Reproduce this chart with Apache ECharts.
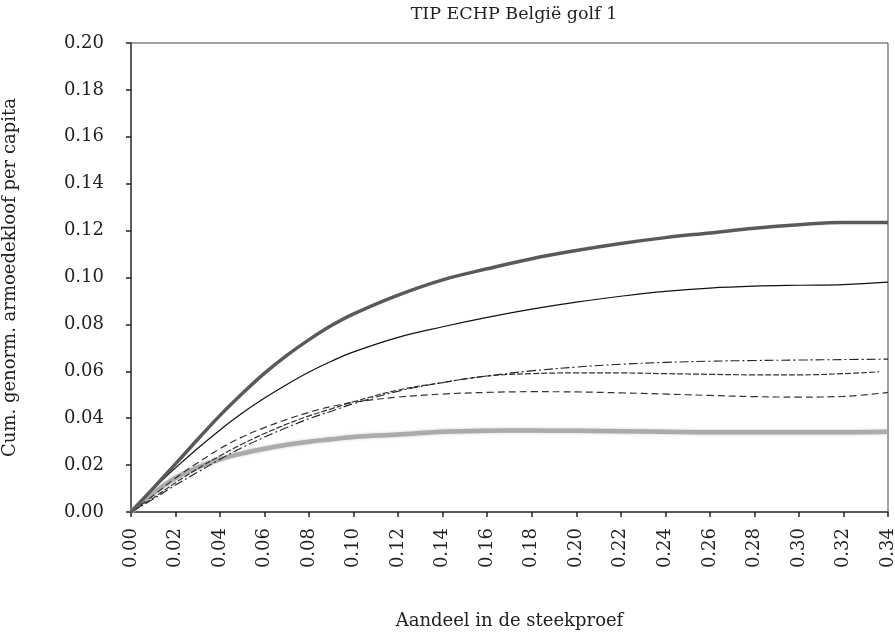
<!DOCTYPE html>
<html>
<head>
<meta charset="utf-8">
<script src="https://cdn.jsdelivr.net/npm/echarts@6/dist/echarts.min.js"></script>
<style>
  html, body { margin: 0; padding: 0; background: #fff; }
  #chart { width: 895px; height: 634px; }
</style>
</head>
<body>
<div id="chart"></div>
<script>
// Sample share (x) at which each curve is evaluated
var share = [0, 0.01, 0.02, 0.03, 0.04, 0.05, 0.06, 0.07, 0.08, 0.09, 0.10,
             0.12, 0.14, 0.16, 0.18, 0.20, 0.22, 0.24, 0.26, 0.28, 0.30, 0.32, 0.34];
var shareShort = [0, 0.01, 0.02, 0.03, 0.04, 0.05, 0.06, 0.07, 0.08, 0.09, 0.10,
             0.12, 0.14, 0.16, 0.18, 0.20, 0.22, 0.24, 0.26, 0.28, 0.30, 0.32, 0.336];

// Cumulative normalised poverty gap per capita
var gapThickDark = [0, 0.0102, 0.0205, 0.031, 0.0412, 0.0505, 0.0592, 0.0668, 0.0735, 0.0795, 0.0845,
                    0.0925, 0.099, 0.1037, 0.108, 0.1115, 0.1145, 0.117, 0.119, 0.121, 0.1225, 0.1235, 0.1235];
var gapThinSolid = [0, 0.0098, 0.0188, 0.0272, 0.035, 0.0422, 0.0486, 0.0544, 0.0597, 0.0643, 0.0683,
                    0.0745, 0.079, 0.083, 0.0865, 0.0895, 0.092, 0.0941, 0.0955, 0.0963, 0.0967, 0.097, 0.098];
var gapDashDot   = [0, 0.0055, 0.0115, 0.017, 0.0225, 0.0275, 0.032, 0.036, 0.0398, 0.043, 0.0462,
                    0.0515, 0.0552, 0.058, 0.0602, 0.0618, 0.063, 0.0638, 0.0643, 0.0646, 0.0648, 0.065, 0.0652];
var gapDashHigh  = [0, 0.006, 0.0125, 0.0185, 0.024, 0.029, 0.0335, 0.0375, 0.041, 0.044, 0.047,
                    0.052, 0.0552, 0.058, 0.059, 0.0593, 0.0593, 0.059, 0.0587, 0.0585, 0.0585, 0.059, 0.0598];
var gapDashLow   = [0, 0.007, 0.0145, 0.021, 0.027, 0.032, 0.036, 0.0395, 0.0425, 0.045, 0.0468,
                    0.049, 0.0503, 0.051, 0.0513, 0.0512, 0.0508, 0.0503, 0.0497, 0.0492, 0.049, 0.0493, 0.051];
var gapLightGrey = [0, 0.008, 0.0145, 0.019, 0.0225, 0.025, 0.027, 0.0287, 0.030, 0.031, 0.032,
                    0.033, 0.0342, 0.0347, 0.0348, 0.0346, 0.0344, 0.0342, 0.034, 0.034, 0.034, 0.034, 0.0342];

var xTicks = { min: 0, max: 0.34, step: 0.02 };
var yTicks = { min: 0, max: 0.20, step: 0.02 };

function pairs(xs, ys) {
  return xs.map(function (x, i) { return [x, ys[i]]; });
}

var serif = 'DejaVu Serif';
var ink = '#222';

var chart = echarts.init(document.getElementById('chart'), null, { renderer: 'canvas' });
chart.setOption({
  animation: false,
  backgroundColor: '#fff',
  title: {
    text: 'TIP ECHP België golf 1',
    left: 509, top: 0, textAlign: 'center',
    textStyle: { fontFamily: serif, fontSize: 17.5, fontWeight: 'normal', color: ink }
  },
  grid: {
    left: 131, right: 7, top: 43, bottom: 122,
    outerBoundsMode: 'none', containLabel: false,
    show: true, borderColor: '#444', borderWidth: 1, backgroundColor: '#fff'
  },
  xAxis: {
    type: 'value',
    min: xTicks.min, max: xTicks.max, interval: xTicks.step,
    name: 'Aandeel in de steekproef',
    nameLocation: 'middle', nameGap: 100,
    nameTextStyle: { fontFamily: serif, fontSize: 18, color: ink },
    axisLine: { show: true, lineStyle: { color: '#444', width: 1.5 } },
    axisTick: { show: true, length: 5, lineStyle: { color: '#222', width: 1.5 } },
    splitLine: { show: false },
    axisLabel: {
      rotate: 90, margin: 16, fontFamily: serif, fontSize: 18, color: ink,
      formatter: function (v) { return v.toFixed(2); }
    }
  },
  yAxis: {
    type: 'value',
    min: yTicks.min, max: yTicks.max, interval: yTicks.step,
    name: 'Cum. genorm. armoedekloof per capita',
    nameLocation: 'middle', nameGap: 112,
    nameTextStyle: { fontFamily: serif, fontSize: 18, color: ink },
    axisLine: { show: true, lineStyle: { color: '#444', width: 1.5 } },
    axisTick: { show: true, length: 5, lineStyle: { color: '#222', width: 1.5 } },
    splitLine: { show: false },
    axisLabel: {
      margin: 27, fontFamily: serif, fontSize: 18, color: ink,
      formatter: function (v) { return v.toFixed(2); }
    }
  },
  series: [
    {
      type: 'line', smooth: 0.4, symbol: 'none',
      data: pairs(share, gapLightGrey),
      lineStyle: { color: '#ababab', width: 4.5, shadowColor: 'rgba(170,170,170,0.6)', shadowBlur: 3 }
    },
    {
      type: 'line', smooth: 0.4, symbol: 'none',
      data: pairs(share, gapDashLow),
      lineStyle: { color: '#333', width: 1.2, type: [7, 4] }
    },
    {
      type: 'line', smooth: 0.4, symbol: 'none',
      data: pairs(shareShort, gapDashHigh),
      lineStyle: { color: '#333', width: 1.2, type: [6, 2] }
    },
    {
      type: 'line', smooth: 0.4, symbol: 'none',
      data: pairs(share, gapDashDot),
      lineStyle: { color: '#222', width: 1.1, type: [9, 3, 2, 3] }
    },
    {
      type: 'line', smooth: 0.4, symbol: 'none',
      data: pairs(share, gapThinSolid),
      lineStyle: { color: '#111', width: 1.2 }
    },
    {
      type: 'line', smooth: 0.4, symbol: 'none',
      data: pairs(share, gapThickDark),
      lineStyle: { color: '#5a5a5a', width: 3.5 }
    }
  ]
});
</script>
</body>
</html>
